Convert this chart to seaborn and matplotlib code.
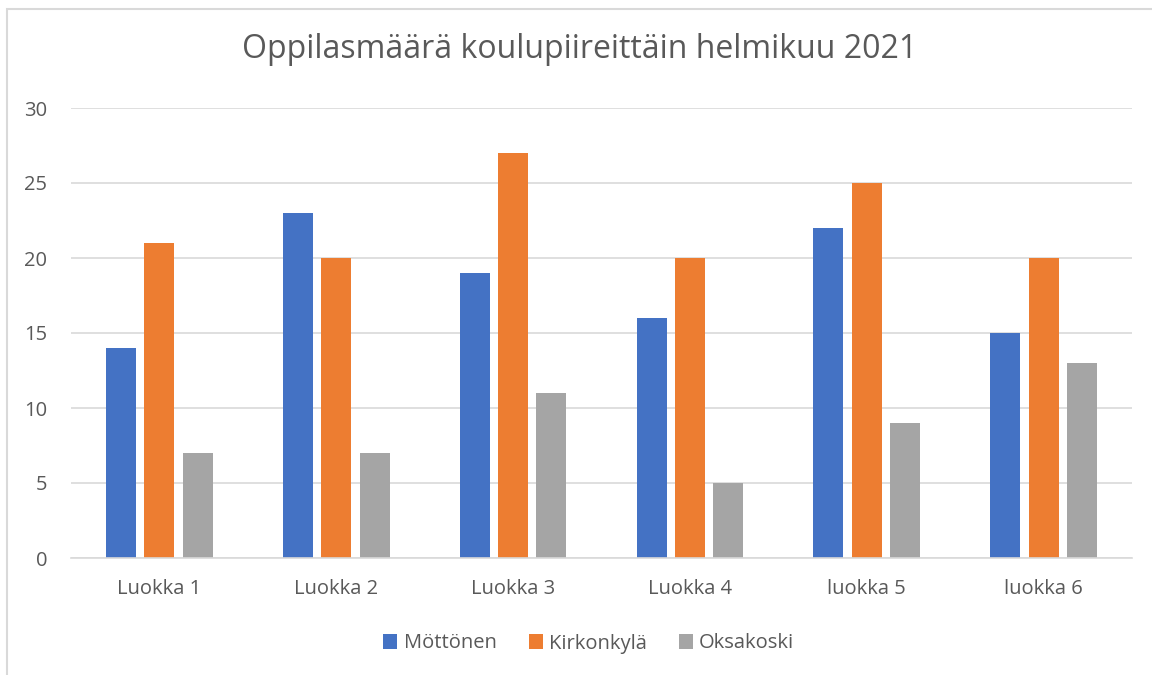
import numpy as np
import pandas as pd
import matplotlib
matplotlib.use("Agg")
import matplotlib.pyplot as plt
from matplotlib.patches import Rectangle
import seaborn as sns

# Data
luokat = ["Luokka 1", "Luokka 2", "Luokka 3", "Luokka 4", "luokka 5", "luokka 6"]
mottonen = [14, 23, 19, 16, 22, 15]
kirkonkyla = [21, 20, 27, 20, 25, 20]
oksakoski = [7, 7, 11, 5, 9, 13]
sarjat = ["Möttönen", "Kirkonkylä", "Oksakoski"]
varit = ["#4472C4", "#ED7D31", "#A5A5A5"]

df = pd.DataFrame({"Luokka": luokat, sarjat[0]: mottonen,
                   sarjat[1]: kirkonkyla, sarjat[2]: oksakoski})
df = df.melt(id_vars="Luokka", var_name="Koulu", value_name="Oppilaat")

sns.set_style("white")
plt.rcParams['font.family'] = ['Open Sans', 'DejaVu Sans']
txt = "#595959"

fig = plt.figure(figsize=(11.52, 6.75), dpi=100)
W, H = 1152, 675
ax = fig.add_axes([71 / W, 1 - 558 / H, (1132 - 71) / W, (558 - 108) / H])

sns.barplot(data=df, x="Luokka", y="Oppilaat", hue="Koulu", hue_order=sarjat,
            palette=varit, width=0.65, gap=0.22, saturation=1, ax=ax,
            linewidth=0, legend=True)

ax.set_ylim(0, 30)
ax.set_xlim(-0.5, 5.5)
ax.set_yticks(range(0, 31, 5))
ax.yaxis.grid(True, color="#D9D9D9", linewidth=1.2)
ax.set_axisbelow(True)
for s in ["top", "right", "left"]:
    ax.spines[s].set_visible(False)
ax.spines["bottom"].set_color("#D9D9D9")
ax.spines["bottom"].set_linewidth(1.2)
ax.tick_params(axis="both", length=0, labelsize=14.5, labelcolor=txt)
ax.tick_params(axis="y", pad=17)
ax.tick_params(axis="x", pad=15)
ax.set_xlabel("")
ax.set_ylabel("")

fig.text(580 / W, 1 - 50 / H, "Oppilasmäärä koulupiireittäin helmikuu 2021",
         ha="center", va="center", fontsize=23, color=txt)

handles, labels = ax.get_legend_handles_labels()
ax.legend(handles, labels, loc="center", bbox_to_anchor=(0.488, -0.19),
          ncol=3, frameon=False, fontsize=14.5, labelcolor=txt,
          handlelength=0.7, handleheight=0.7, handletextpad=0.3,
          columnspacing=1.6)

# chart border
fig.patches.append(Rectangle((7 / W, -0.1), 1.2, 1 - 9 / H + 0.1,
                             transform=fig.transFigure, fill=False,
                             edgecolor="#D9D9D9", linewidth=1.5))

fig.savefig("out.png", dpi=100)
